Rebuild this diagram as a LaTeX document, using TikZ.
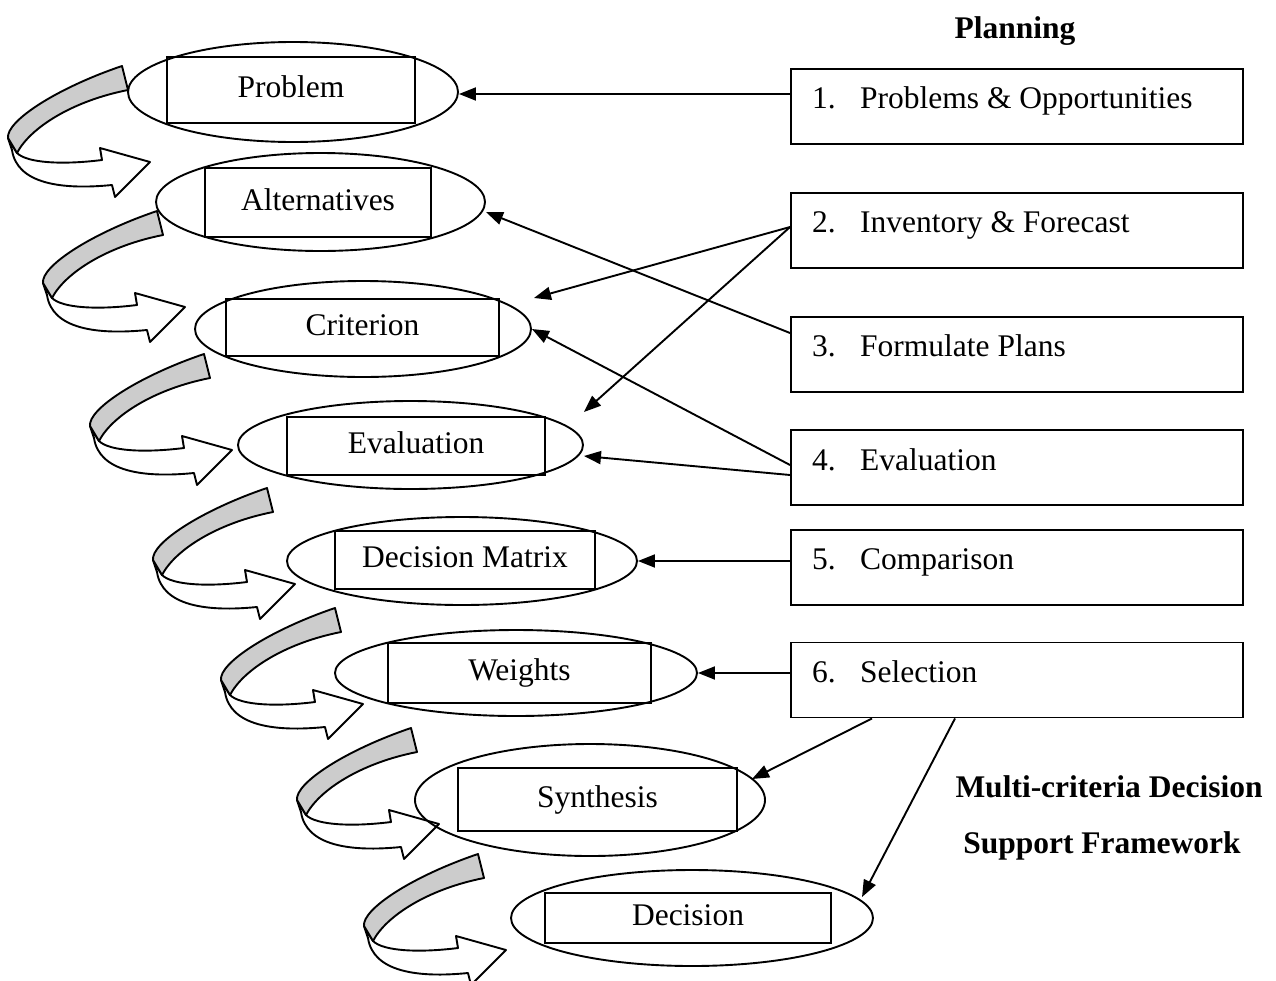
\documentclass[tikz,border=0pt]{standalone}
\usepackage{fontspec}
\setmainfont{Liberation Serif}
\usetikzlibrary{shapes.geometric,arrows.meta,calc}
\tikzset{
  bigfont/.style={font=\fontsize{31.5}{38}\selectfont},
  ell/.style={draw, ellipse, line width=1.9pt, inner sep=0pt},
  ibox/.style={draw, rectangle, line width=1.9pt, inner sep=0pt, bigfont, text height=22pt, text depth=7pt},
  rbox/.style={draw, rectangle, line width=1.9pt, inner sep=0pt, minimum width=452pt, minimum height=75pt},
  txt/.style={bigfont, inner sep=0pt, anchor=base west},
  hd/.style={font=\fontsize{31.5}{38}\selectfont\bfseries, inner sep=0pt, anchor=base},
  conn/.style={line width=1.9pt, -{Triangle[length=17pt,width=13pt]}},
  arw/.style={line width=1.9pt, line join=round},
  curvarrow/.pic={
    \filldraw[fill=white, arw] (-114,72) -- (-105,87) .. controls (-95,97) and (-60,99) .. (-20,94)
      -- (-22,82) -- (28,96) -- (-7,131) -- (-10,119)
      .. controls (-60,124) and (-105,118) .. (-110,84) -- cycle;
    \filldraw[fill=black!20, arw] (0,0) .. controls (-65,22) and (-116,55) .. (-114,72)
      -- (-105,87) .. controls (-92,62) and (-50,35) .. (6,24) -- cycle;
  }
}
\begin{document}
\begin{tikzpicture}[x=1pt,y=-1pt]
\useasboundingbox (0,0) rectangle (1276,980);

% curved arrows
\pic at (122,66) {curvarrow};
\pic at (157,211) {curvarrow};
\pic at (204,354) {curvarrow};
\pic at (267,488) {curvarrow};
\pic at (335,608) {curvarrow};
\pic at (411,728) {curvarrow};
\pic at (478,854) {curvarrow};

% ellipses
\node[ell, minimum width=330pt, minimum height=100pt] (e1) at (293,92) {};
\node[ell, minimum width=329pt, minimum height=98pt] (e2) at (320.5,202) {};
\node[ell, minimum width=336pt, minimum height=96pt] (e3) at (363,329) {};
\node[ell, minimum width=345pt, minimum height=88pt] (e4) at (410.5,445) {};
\node[ell, minimum width=350pt, minimum height=88pt] (e5) at (462,561) {};
\node[ell, minimum width=362pt, minimum height=86pt] (e6) at (516,673) {};
\node[ell, minimum width=350pt, minimum height=112pt] (e7) at (590,800) {};
\node[ell, minimum width=362pt, minimum height=96pt] (e8) at (692,918) {};

% inner boxes
\node[ibox, minimum width=248pt, minimum height=66pt] (b1) at (291,90) {Problem};
\node[ibox, minimum width=226pt, minimum height=69pt] (b2) at (318,202.5) {Alternatives};
\node[ibox, minimum width=273pt, minimum height=57pt] (b3) at (362.5,327.5) {Criterion};
\node[ibox, minimum width=258pt, minimum height=58pt] (b4) at (416,446) {Evaluation};
\node[ibox, minimum width=260pt, minimum height=58pt] (b5) at (465,560) {Decision Matrix};
\node[ibox, minimum width=263pt, minimum height=60pt] (b6) at (519.5,673) {Weights};
\node[ibox, minimum width=279pt, minimum height=63pt] (b7) at (597.5,799.5) {Synthesis};
\node[ibox, minimum width=286pt, minimum height=50pt] (b8) at (688,918) {Decision};

% right boxes
\node[rbox] (r1) at (1017,106.5) {};
\node[rbox] (r2) at (1017,230.5) {};
\node[rbox] (r3) at (1017,354.5) {};
\node[rbox] (r4) at (1017,467.5) {};
\node[rbox] (r5) at (1017,567.5) {};
\node[rbox] (r6) at (1017,680) {};

\node[txt] (n1) at (812,108) {1.};
\node[txt] (l1) at (860,108) {Problems \& Opportunities};
\node[txt] (n2) at (812,232) {2.};
\node[txt] (l2) at (860,232) {Inventory \& Forecast};
\node[txt] (n3) at (812,356) {3.};
\node[txt] (l3) at (860,356) {Formulate Plans};
\node[txt] (n4) at (812,470) {4.};
\node[txt] (l4) at (860,470) {Evaluation};
\node[txt] (n5) at (812,569) {5.};
\node[txt] (l5) at (860,569) {Comparison};
\node[txt] (n6) at (812,682) {6.};
\node[txt] (l6) at (860,682) {Selection};

% headings
\node[hd] (h1) at (1015,38) {Planning};
\node[hd] (h2) at (1109,797) {Multi-criteria Decision};
\node[hd] (h3) at (1102,853) {Support Framework};

% connectors
\coordinate (s2) at ($(r2.west)+(0,-3.5)$);
\coordinate (s3) at ($(r3.west)+(0,-21.5)$);
\coordinate (s4a) at ($(r4.west)+(0,-2.5)$);
\coordinate (s4b) at ($(r4.west)+(0,7.5)$);
\coordinate (s6a) at ($(r6.south)+(-145,0)$);
\coordinate (s6b) at ($(r6.south)+(-62,0)$);
\coordinate (t2a) at ($(e3.east)+(2,-31)$);
\coordinate (t2b) at ($(e4.east)+(0,-33)$);
\coordinate (t3) at ($(e2.east)+(0,10)$);
\coordinate (t4b) at ($(e4.east)+(0,11)$);
\coordinate (t6a) at ($(e7.center)+(162,-21)$);
\coordinate (t6b) at ($(e8.center)+(170,-21)$);

\draw[conn] ($(r1.west |- e1.east)+(0,2)$) -- ($(e1.east)+(0,2)$);
\draw[conn] (s2) -- (t2a);
\draw[conn] (s2) -- (t2b);
\draw[conn] (s3) -- (t3);
\draw[conn] (s4a) -- (e3.east);
\draw[conn] (s4b) -- (t4b);
\draw[conn] (r5.west |- e5.east) -- (e5.east);
\draw[conn] (r6.west |- e6.east) -- (e6.east);
\draw[conn] (s6a) -- (t6a);
\draw[conn] (s6b) -- (t6b);
\end{tikzpicture}
\end{document}
